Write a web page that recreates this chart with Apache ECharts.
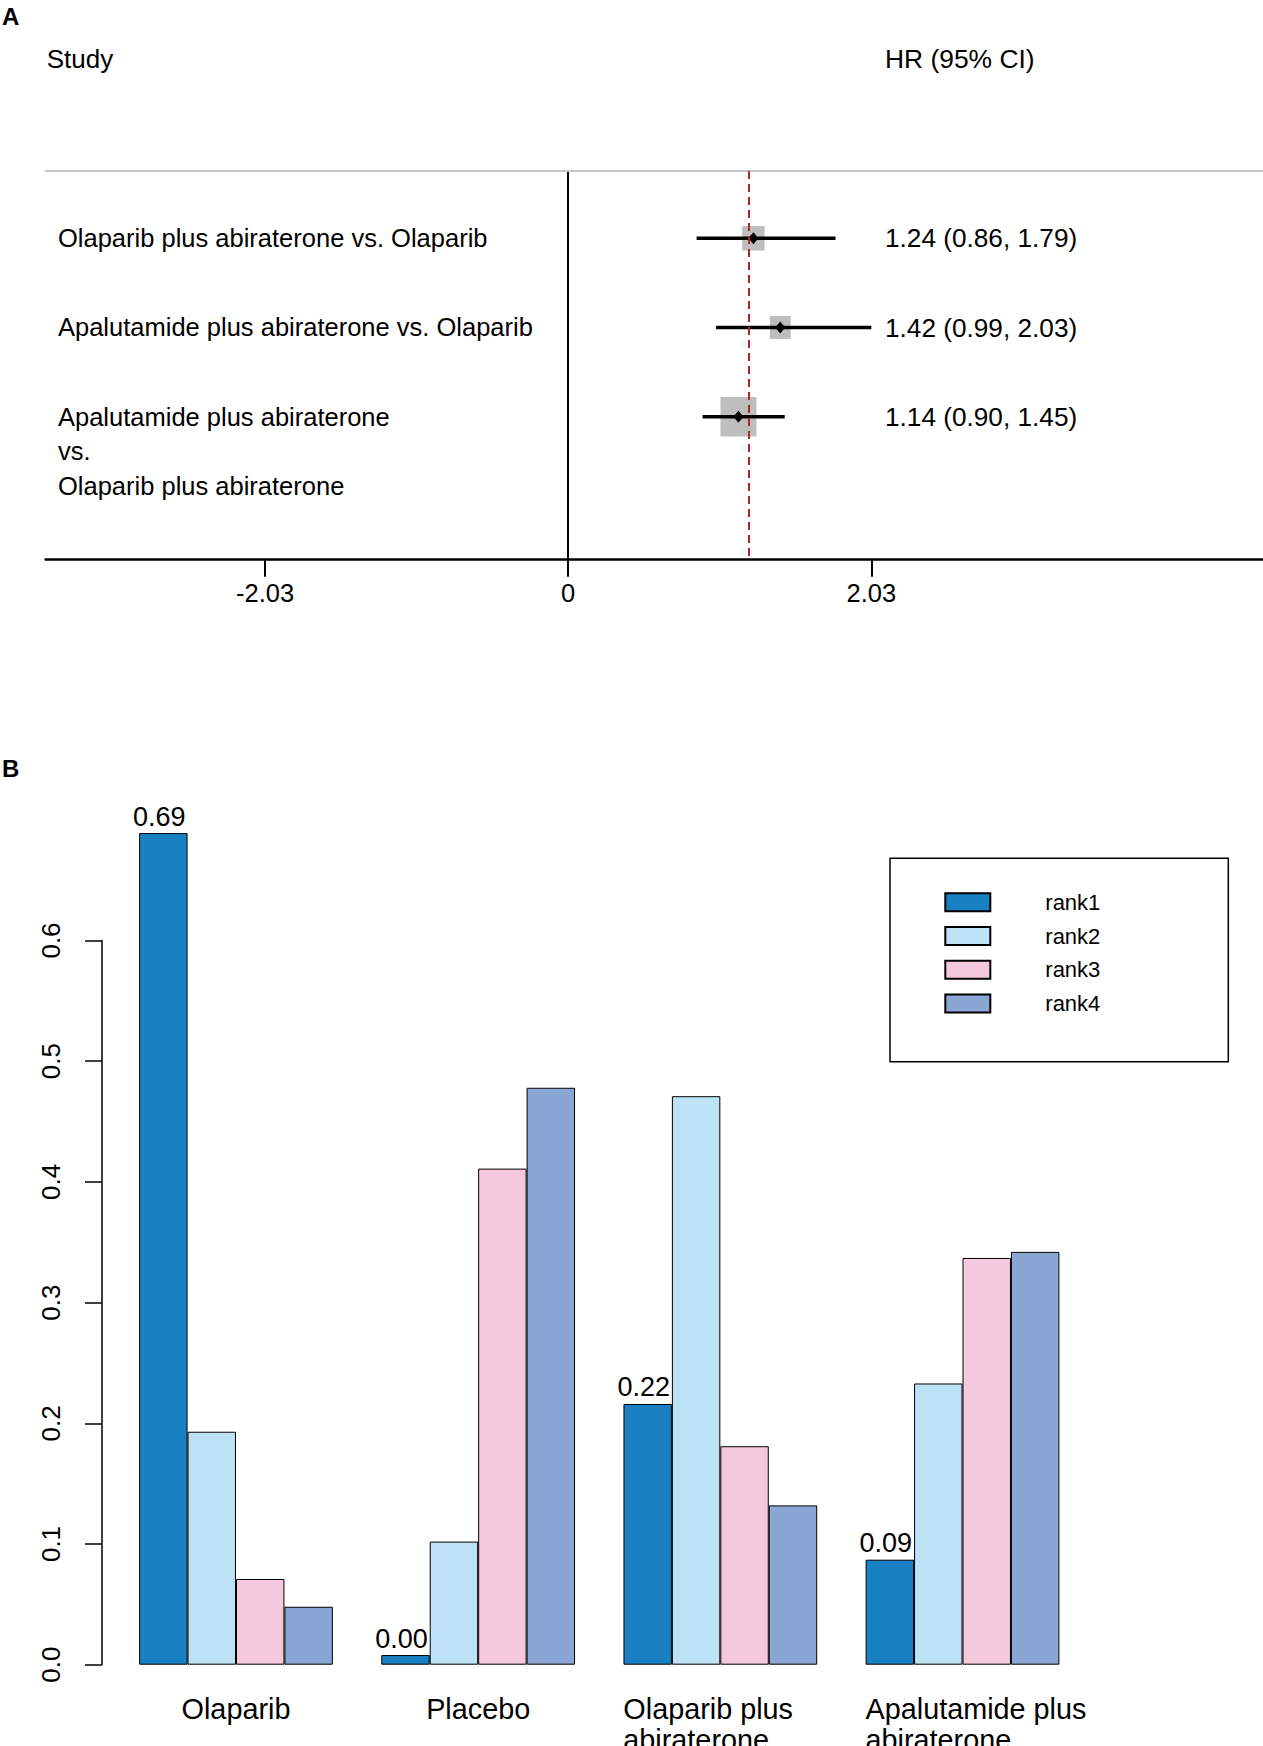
<!DOCTYPE html>
<html lang="en">
<head>
    <meta charset="UTF-8">
    <title>HR forest plot and rank probabilities</title>
    <script src="https://cdn.jsdelivr.net/npm/echarts@6/dist/echarts.min.js"></script>
    <style>
        html, body { margin: 0; padding: 0; background: #fff; }
        #chart { width: 1263px; height: 1746px; }
    </style>
</head>
<body>
<div id="chart"></div>
<script>
    // ---- panel A: pairwise comparisons ----
    var studies = [
        'Olaparib plus abiraterone vs. Olaparib',
        'Apalutamide plus abiraterone vs. Olaparib',
        'Apalutamide plus abiraterone\nvs.\nOlaparib plus abiraterone'
    ];
    var hr = [1.24, 1.42, 1.14];
    var hrLow = [0.86, 0.99, 0.90];
    var hrHigh = [1.79, 2.03, 1.45];
    var boxWeight = [0.62, 0.58, 1.0];
    var pooledHr = 1.21;
    var hrTicks = [-2.03, 0, 2.03];

    // ---- panel B: rank probabilities ----
    var treatments = ['Olaparib', 'Placebo', 'Olaparib plus\nabiraterone', 'Apalutamide plus\nabiraterone'];
    var rankNames = ['rank1', 'rank2', 'rank3', 'rank4'];
    var rank1 = [0.689, 0.008, 0.216, 0.087];
    var rank2 = [0.193, 0.102, 0.471, 0.233];
    var rank3 = [0.071, 0.411, 0.181, 0.337];
    var rank4 = [0.048, 0.478, 0.132, 0.342];
    var rank1Labels = ['0.69', '0.00', '0.22', '0.09'];
    var rankColors = ['#1a80c4', '#bde2f6', '#f5c9dd', '#8aa6d4'];

    var FONT = 'Liberation Sans';

    var forestData = [];
    for (var i = 0; i < hr.length; i++) {
        forestData.push([hr[i], i + 1, hrLow[i], hrHigh[i], boxWeight[i]]);
    }

    function renderForest(params, api) {
        var i = params.dataIndex;
        var y = api.value(1);
        var c = api.coord([api.value(0), y]);
        var lo = api.coord([api.value(2), y]);
        var hi = api.coord([api.value(3), y]);
        var bw = api.value(4) * 36, bh = api.value(4) * 39.5;
        var txt = hr[i].toFixed(2) + ' (' + hrLow[i].toFixed(2) + ', ' + hrHigh[i].toFixed(2) + ')';
        return {
            type: 'group',
            children: [
                {type: 'rect', shape: {x: c[0] - bw / 2, y: c[1] - bh / 2, width: bw, height: bh}, style: {fill: '#bebebe'}},
                {type: 'line', shape: {x1: lo[0], y1: lo[1], x2: hi[0], y2: hi[1]}, style: {stroke: '#000', lineWidth: 3.5}},
                {type: 'polygon', shape: {points: [[c[0] - 5, c[1]], [c[0], c[1] - 6], [c[0] + 5, c[1]], [c[0], c[1] + 6]]}, style: {fill: '#000'}},
                {type: 'text', x: 58, y: c[1] - 17.4, style: {text: studies[i], fill: '#000', fontSize: 25.5, fontFamily: FONT, lineHeight: 34.8, align: 'left', verticalAlign: 'top'}},
                {type: 'text', x: 885, y: c[1], style: {text: txt, fill: '#000', fontSize: 26.2, fontFamily: FONT, align: 'left', verticalAlign: 'middle'}}
            ]
        };
    }

    var rankData = [rank1, rank2, rank3, rank4];
    var barSeries = rankNames.map(function (name, k) {
        var s = {
            name: name,
            type: 'bar',
            xAxisIndex: 2,
            yAxisIndex: 1,
            data: rankData[k],
            barGap: '0%',
            barCategoryGap: '20%',
            clip: false,
            itemStyle: {color: rankColors[k], borderColor: '#000', borderWidth: 1}
        };
        if (k === 0) {
            s.label = {
                show: true, position: 'top', distance: 3, offset: [-4, 0],
                fontSize: 27, fontFamily: FONT, color: '#000',
                formatter: function (p) { return rank1Labels[p.dataIndex]; }
            };
        }
        return s;
    });

    var option = {
        animation: false,
        backgroundColor: '#fff',
        textStyle: {fontFamily: FONT, color: '#000'},
        grid: [
            {left: 45.6, top: 171, width: 1217.4, height: 388.7, outerBoundsMode: 'none', containLabel: false},
            {left: 114.9, top: 940.5, width: 968.7, height: 724.2, outerBoundsMode: 'none', containLabel: false}
        ],
        xAxis: [
            {
                type: 'value', gridIndex: 0, min: -3.5, max: 4.653, position: 'bottom',
                axisLine: {onZero: false, lineStyle: {color: '#000', width: 2.5}},
                axisTick: {customValues: hrTicks, length: 17, lineStyle: {color: '#000', width: 2}},
                axisLabel: {
                    customValues: hrTicks, fontSize: 25.5, color: '#000', margin: 20, fontFamily: FONT,
                    formatter: function (v) { return v === 0 ? '0' : v.toFixed(2); }
                },
                splitLine: {show: false}
            },
            {
                type: 'value', gridIndex: 0, min: -3.5, max: 4.653, position: 'top',
                axisLine: {onZero: false, lineStyle: {color: '#c6c6c6', width: 2}},
                axisTick: {show: false}, axisLabel: {show: false}, splitLine: {show: false}
            },
            {
                type: 'category', gridIndex: 1, data: treatments,
                axisLine: {show: false}, axisTick: {show: false},
                axisLabel: {
                    interval: 0, fontSize: 28.8, lineHeight: 31, color: '#000', margin: 29, fontFamily: FONT,
                    formatter: function (v) {
                        if (v.indexOf('\n') < 0) return v;
                        return v.split('\n').map(function (l) { return '{a|' + l + '}'; }).join('\n');
                    },
                    rich: {a: {width: 194, align: 'left', fontSize: 28.8, lineHeight: 31, fontFamily: FONT, color: '#000'}}
                }
            }
        ],
        yAxis: [
            {
                type: 'value', gridIndex: 0, min: 0.2455, max: 4.603, inverse: true,
                axisLine: {onZero: true, lineStyle: {color: '#000', width: 2}},
                axisTick: {show: false}, axisLabel: {show: false}, splitLine: {show: false}
            },
            {
                type: 'value', gridIndex: 1, min: 0, max: 0.6, interval: 0.1, offset: 13.2,
                axisLine: {show: true, lineStyle: {color: '#000', width: 1.5}},
                axisTick: {show: true, length: 16.7, lineStyle: {color: '#000', width: 1.5}},
                axisLabel: {
                    rotate: 90, fontSize: 26, color: '#000', margin: 38, fontFamily: FONT,
                    formatter: function (v) { return v.toFixed(1); }
                },
                splitLine: {show: false}
            }
        ],
        legend: {
            data: rankNames,
            orient: 'vertical',
            left: 944.3, top: 891.3,
            padding: 0,
            itemWidth: 45, itemHeight: 18, itemGap: 11.7,
            icon: 'rect',
            textStyle: {fontSize: 22, color: '#000', fontFamily: FONT, padding: [0, 0, 0, 50]}
        },
        graphic: [
            {type: 'text', left: 2, top: 4, style: {text: 'A', fontSize: 24, fontWeight: 'bold', fontFamily: FONT, fill: '#000'}},
            {type: 'text', x: 46.7, y: 59, style: {text: 'Study', fontSize: 26, fontFamily: FONT, fill: '#000', verticalAlign: 'middle'}},
            {type: 'text', x: 885, y: 59, style: {text: 'HR (95% CI)', fontSize: 26.4, fontFamily: FONT, fill: '#000', verticalAlign: 'middle'}},
            {type: 'text', left: 2, top: 756, style: {text: 'B', fontSize: 24, fontWeight: 'bold', fontFamily: FONT, fill: '#000'}},
            {type: 'rect', shape: {x: 890, y: 858.3, width: 338.3, height: 203.4}, style: {fill: 'none', stroke: '#000', lineWidth: 1.5}}
        ],
        series: [
            {
                type: 'custom',
                xAxisIndex: 0,
                yAxisIndex: 0,
                data: forestData,
                renderItem: renderForest,
                markLine: {
                    silent: true,
                    symbol: 'none',
                    label: {show: false},
                    lineStyle: {type: [8, 5], color: '#a52a2a', width: 2},
                    data: [{xAxis: pooledHr}]
                }
            }
        ].concat(barSeries)
    };

    var chart = echarts.init(document.getElementById('chart'), null, {renderer: 'svg'});
    chart.setOption(option);
</script>
</body>
</html>
